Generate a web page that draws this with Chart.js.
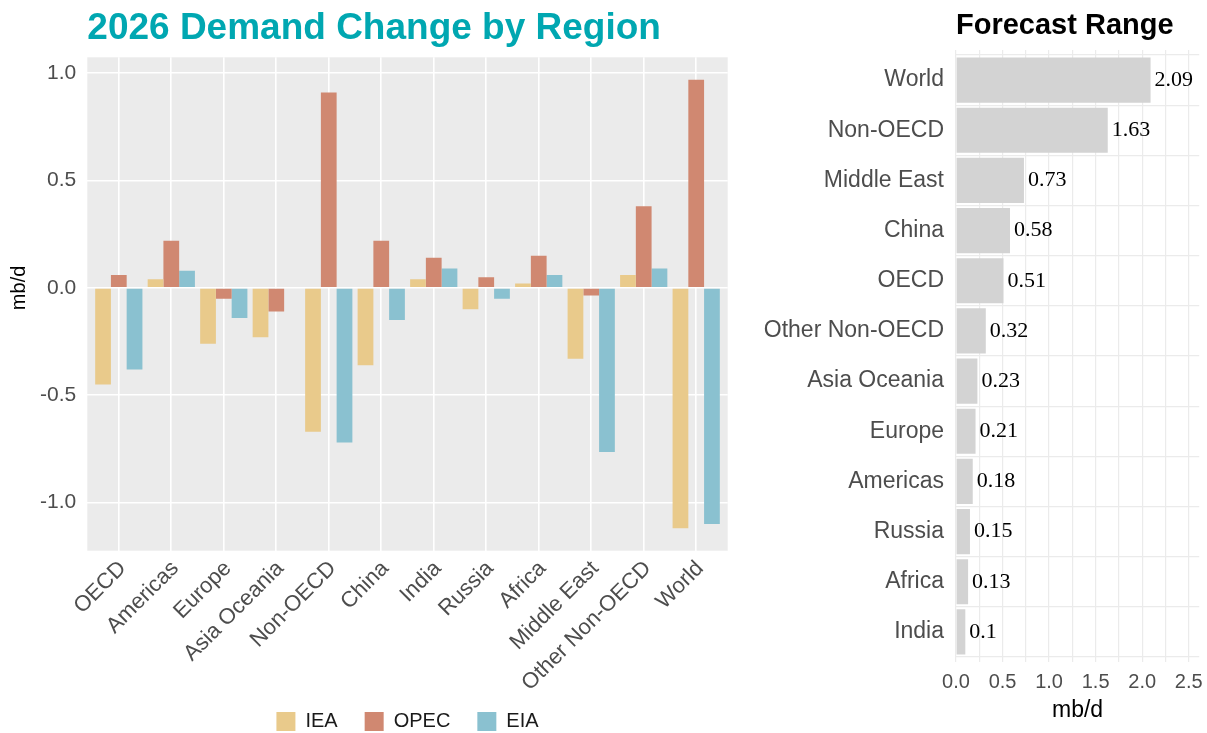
<!DOCTYPE html>
<html><head><meta charset="utf-8">
<script src="https://cdn.jsdelivr.net/npm/chart.js@4.4.1/dist/chart.umd.min.js"></script>
<style>
html,body{margin:0;padding:0;background:#fff;width:1207px;height:733px;overflow:hidden;}
#c1{position:absolute;left:0;top:0;}
#c2{position:absolute;left:740px;top:0;}
</style></head><body>
<canvas id="c1" width="740" height="733" style="width:740px;height:733px"></canvas>
<canvas id="c2" width="467" height="733" style="width:467px;height:733px"></canvas>
<script>
// ---- data: left chart ----
const regions = ['OECD','Americas','Europe','Asia Oceania','Non-OECD','China','India','Russia','Africa','Middle East','Other Non-OECD','World'];
const iea  = [-0.45, 0.04, -0.26, -0.23, -0.67, -0.36, 0.04, -0.10, 0.02, -0.33, 0.06, -1.12];
const opec = [0.06, 0.22, -0.05, -0.11, 0.91, 0.22, 0.14, 0.05, 0.15, -0.035, 0.38, 0.97];
const eia  = [-0.38, 0.08, -0.14, 0.00, -0.72, -0.15, 0.09, -0.05, 0.06, -0.765, 0.09, -1.10];
const leftYTicks = [-1.0, -0.5, 0.0, 0.5, 1.0];
// ---- data: right chart ----
const rangeRegions = ['World','Non-OECD','Middle East','China','OECD','Other Non-OECD','Asia Oceania','Europe','Americas','Russia','Africa','India'];
const rangeValues = [2.09, 1.63, 0.73, 0.58, 0.51, 0.32, 0.23, 0.21, 0.18, 0.15, 0.13, 0.1];
const rightXTicks = [0, 0.25, 0.5, 0.75, 1.0, 1.25, 1.5, 1.75, 2.0, 2.25, 2.5];

Chart.defaults.font.family = "'Liberation Sans', Arial, Helvetica, sans-serif";

const panelBg = {
  id: 'panelBg',
  beforeDraw(chart, args, opts) {
    if (!opts || !opts.color) return;
    const {ctx, chartArea: a} = chart;
    ctx.save();
    ctx.fillStyle = opts.color;
    ctx.fillRect(a.left, a.top, a.right - a.left, a.bottom - a.top);
    ctx.restore();
  }
};

// y-axis title placed where the reference has it (level with the zero line)
const yAxisTitle = {
  id: 'yAxisTitle',
  afterDraw(chart, args, opts) {
    if (!opts || !opts.text) return;
    const {ctx} = chart;
    const y = chart.scales.y.getPixelForValue(opts.atValue);
    ctx.save();
    ctx.translate(opts.x, y);
    ctx.rotate(-Math.PI / 2);
    ctx.font = opts.font;
    ctx.fillStyle = opts.color;
    ctx.textAlign = 'center';
    ctx.textBaseline = 'middle';
    ctx.fillText(opts.text, 0, 0);
    ctx.restore();
  }
};

const valueLabels = {
  id: 'valueLabels',
  afterDatasetsDraw(chart) {
    const {ctx} = chart;
    const meta = chart.getDatasetMeta(0);
    ctx.save();
    ctx.font = "22px 'Liberation Serif', 'Times New Roman', serif";
    ctx.fillStyle = '#000';
    ctx.textBaseline = 'middle';
    ctx.textAlign = 'left';
    meta.data.forEach((bar, i) => {
      ctx.fillText(String(rangeValues[i]), bar.x + 4, bar.y);
    });
    ctx.restore();
  }
};

const toXY = arr => arr.map((v, i) => ({x: i, y: v}));

new Chart(document.getElementById('c1'), {
  type: 'bar',
  data: {
    datasets: [
      {label: 'IEA',  data: toXY(iea),  backgroundColor: '#E9CA8B', borderWidth: 0},
      {label: 'OPEC', data: toXY(opec), backgroundColor: '#D08871', borderWidth: 0},
      {label: 'EIA',  data: toXY(eia),  backgroundColor: '#8AC1D0', borderWidth: 0}
    ]
  },
  plugins: [panelBg, yAxisTitle],
  options: {
    responsive: false, animation: false,
    layout: {padding: {left: 0, right: 12.3, top: 0, bottom: 0}},
    datasets: {bar: {categoryPercentage: 0.9, barPercentage: 1.0}},
    scales: {
      x: {
        type: 'linear', min: -0.6, max: 11.6, offset: false,
        afterBuildTicks: s => {
          s.ticks = regions.map((_, i) => ({value: i}));
          s._computeLabelArea = () => undefined; // let long rotated labels run past the axis box
        },
        afterFit: s => { s.height = 133.8; s.paddingLeft = 0; s.paddingRight = 0; },
        grid: {color: '#FFFFFF', lineWidth: 1.6, drawTicks: false, offset: false},
        border: {display: false},
        ticks: {autoSkip: false, minRotation: 45, maxRotation: 45, padding: 5, labelOffset: 4,
                color: '#4D4D4D', font: {size: 22}, callback: v => regions[v]}
      },
      y: {
        type: 'linear', min: -1.2245, max: 1.0745,
        afterBuildTicks: s => { s.ticks = leftYTicks.map(v => ({value: v})); },
        afterFit: s => { s.width = 87.3; s.paddingTop = 0; s.paddingBottom = 0; },
        grid: {color: '#FFFFFF', lineWidth: 1.6, drawTicks: false},
        border: {display: false},
        ticks: {padding: 11, color: '#4D4D4D', font: {size: 21}, callback: v => Number(v).toFixed(1)}
      }
    },
    plugins: {
      title: {display: true, text: '2026 Demand Change by Region', align: 'start', fullSize: false,
              color: '#00A7B1', font: {size: 37, weight: 'bold'}, padding: {top: 6.8, bottom: 6.1}},
      legend: {position: 'bottom', fullSize: false, maxHeight: 48.5,
               labels: {boxWidth: 19, boxHeight: 19, padding: 27, color: '#1A1A1A', font: {size: 20}}},
      tooltip: {enabled: false},
      panelBg: {color: '#EBEBEB'},
      yAxisTitle: {text: 'mb/d', x: 19, atValue: 0, color: '#000', font: "20px 'Liberation Sans', Arial, sans-serif"}
    }
  }
});

new Chart(document.getElementById('c2'), {
  type: 'bar',
  data: {
    datasets: [{label: 'Range', data: rangeValues.map((v, i) => ({x: v, y: i})), backgroundColor: '#D3D3D3', borderWidth: 0}]
  },
  plugins: [valueLabels],
  options: {
    indexAxis: 'y', responsive: false, animation: false,
    layout: {padding: {left: 0, right: 7.8, top: 0, bottom: 0}},
    datasets: {bar: {categoryPercentage: 0.9, barPercentage: 1.0}},
    scales: {
      y: {
        type: 'linear', reverse: true, min: -0.6, max: 11.6, offset: false,
        afterBuildTicks: s => { s.ticks = rangeRegions.map((_, i) => ({value: i})); },
        afterFit: s => { s.width = 216; s.paddingTop = 0; s.paddingBottom = 0; },
        grid: {color: '#EBEBEB', lineWidth: 1.2, drawTicks: false},
        border: {display: false},
        ticks: {autoSkip: false, padding: 12, color: '#4D4D4D', font: {size: 23}, callback: v => rangeRegions[v]}
      },
      x: {
        type: 'linear', min: 0, max: 2.6125,
        afterBuildTicks: s => { s.ticks = rightXTicks.map(v => ({value: v})); },
        afterFit: s => { s.height = 71; s.paddingLeft = 0; s.paddingRight = 0; },
        grid: {color: '#EBEBEB', lineWidth: 1.2, drawTicks: false},
        border: {display: false},
        ticks: {autoSkip: false, maxRotation: 0, padding: 8, color: '#4D4D4D', font: {size: 20},
                callback: v => (Math.round(v * 100) % 50 === 0 ? Number(v).toFixed(1) : '')},
        title: {display: true, text: 'mb/d', color: '#000', font: {size: 23}, padding: {top: 1, bottom: 9}}
      }
    },
    plugins: {
      title: {display: true, text: 'Forecast Range', align: 'start', fullSize: false,
              color: '#000', font: {size: 29, weight: 'bold'}, padding: {top: 8.9, bottom: 6.3}},
      legend: {display: false},
      tooltip: {enabled: false}
    }
  }
});
</script>
</body></html>
